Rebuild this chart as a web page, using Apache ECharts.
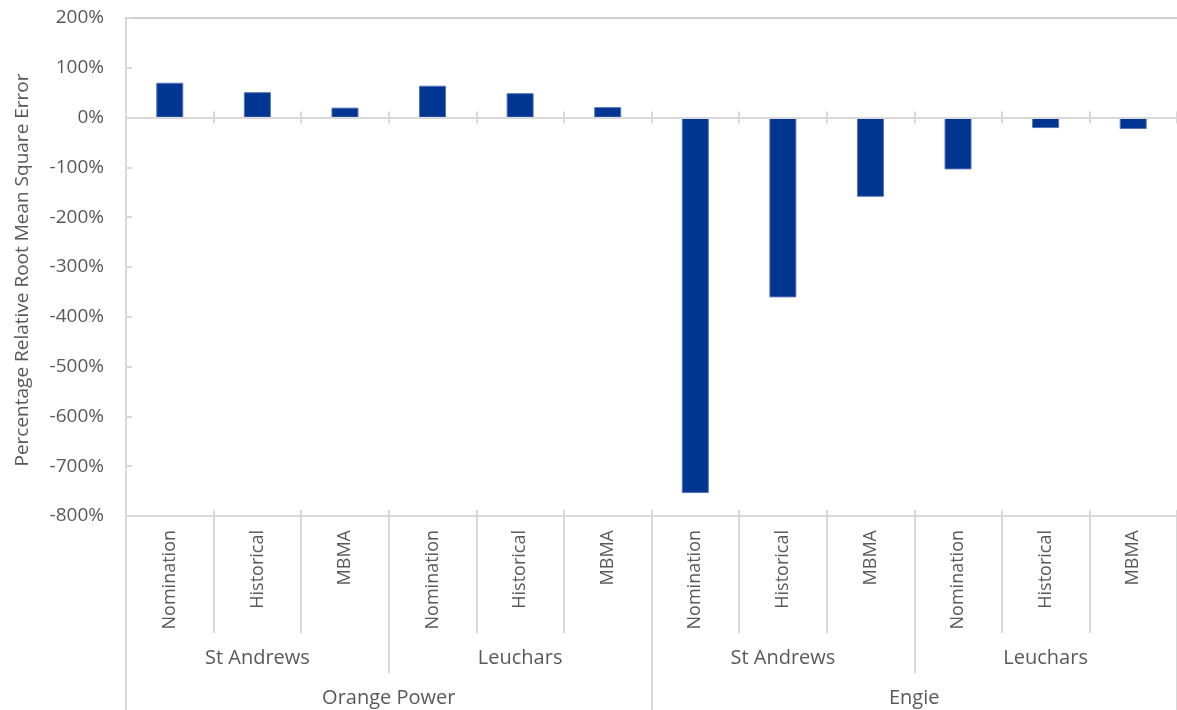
<!DOCTYPE html>
<html>
<head>
<meta charset="utf-8">
<script src="https://cdn.jsdelivr.net/npm/echarts@6/dist/echarts.min.js"></script>
<style>
html,body{margin:0;padding:0;background:#ffffff;}
#chart{width:1177px;height:710px;}
</style>
</head>
<body>
<div id="chart"></div>
<script>
// ---- data ----
const methods = ['Nomination', 'Historical', 'MBMA', 'Nomination', 'Historical', 'MBMA',
                 'Nomination', 'Historical', 'MBMA', 'Nomination', 'Historical', 'MBMA'];
const sites = ['St Andrews', 'Leuchars', 'St Andrews', 'Leuchars'];
const companies = ['Orange Power', 'Engie'];
const rrmseValues = [70, 51, 20, 64, 49, 21, -754, -361, -159, -104, -21, -23];
const yMin = -800, yMax = 200, yStep = 100;
const yTitle = 'Percentage Relative Root Mean Square Error';

// ---- styling ----
const FONT = 'Open Sans';
const TXT = '#595959';
const LINE = '#D9D9D9';

const hidden = { show: false };
function bottomAxis(data, extra) {
  return Object.assign({
    type: 'category', gridIndex: 0, position: 'bottom', data: data,
    boundaryGap: true,
    axisLine: { show: false, onZero: false },
    axisTick: hidden, axisLabel: hidden, splitLine: hidden
  }, extra);
}

const option = {
  backgroundColor: '#ffffff',
  animation: false,
  grid: { left: 126, top: 18, width: 1058, height: 498, containLabel: false },
  xAxis: [
    // level 1: method (series axis)
    bottomAxis(methods, {
      axisLine: { show: true, onZero: false, lineStyle: { color: LINE, width: 2 } },
      axisTick: { show: true, interval: 0, length: 117, lineStyle: { color: LINE, width: 2 } },
      axisLabel: { show: true, interval: 0, rotate: 90, margin: 14, fontSize: 18,
                   color: TXT, fontFamily: FONT }
    }),
    // level 2: site
    bottomAxis(sites.map((s, i) => s + '#' + i), {
      axisTick: { show: true, interval: 0, length: 157, lineStyle: { color: LINE, width: 2 } },
      axisLabel: { show: true, interval: 0, margin: 132, fontSize: 20, color: TXT, fontFamily: FONT,
                   formatter: (v, i) => sites[i] }
    }),
    // level 3: company
    bottomAxis(companies, {
      axisTick: { show: true, interval: 0, length: 194, lineStyle: { color: LINE, width: 2 } },
      axisLabel: { show: true, interval: 0, margin: 172, fontSize: 20, color: TXT, fontFamily: FONT }
    }),
    // small ticks above the bottom line
    bottomAxis(methods, {
      axisTick: { show: true, inside: true, interval: 0, length: 6, lineStyle: { color: LINE, width: 2 } }
    }),
    // zero line, ticks below
    bottomAxis(methods, {
      z: 3,
      axisLine: { show: true, onZero: true, onZeroAxisIndex: 0, lineStyle: { color: LINE, width: 2 } },
      axisTick: { show: true, interval: 0, length: 6, lineStyle: { color: LINE, width: 2 } }
    }),
    // zero line, ticks above
    bottomAxis(methods, {
      z: 3,
      axisLine: { show: true, onZero: true, onZeroAxisIndex: 0, lineStyle: { color: LINE, width: 2 } },
      axisTick: { show: true, inside: true, interval: 0, length: 6, lineStyle: { color: LINE, width: 2 } }
    }),
    // top border
    bottomAxis(methods, {
      position: 'top',
      axisLine: { show: true, onZero: false, lineStyle: { color: '#BFBFBF', width: 1.5 } }
    })
  ],
  yAxis: [{
    type: 'value', gridIndex: 0, min: yMin, max: yMax, interval: yStep,
    axisLine: { show: true, onZero: false, lineStyle: { color: LINE, width: 2 } },
    axisTick: { show: true, inside: true, length: 6, lineStyle: { color: LINE, width: 2 } },
    splitLine: { show: false },
    axisLabel: { margin: 22, fontSize: 19, color: TXT, fontFamily: FONT, formatter: v => v + '%' },
    name: yTitle, nameLocation: 'middle', nameGap: 94,
    nameTextStyle: { fontSize: 19, color: TXT, fontFamily: FONT, padding: [0, 6, 0, 0] }
  }],
  series: [{
    type: 'bar', xAxisIndex: 0, yAxisIndex: 0, data: rrmseValues, barWidth: 27, z: 2,
    itemStyle: { color: '#003591', borderColor: '#5474B4', borderWidth: 1 }
  }]
};

const chart = echarts.init(document.getElementById('chart'), null, { renderer: 'canvas' });
chart.setOption(option);
</script>
</body>
</html>
